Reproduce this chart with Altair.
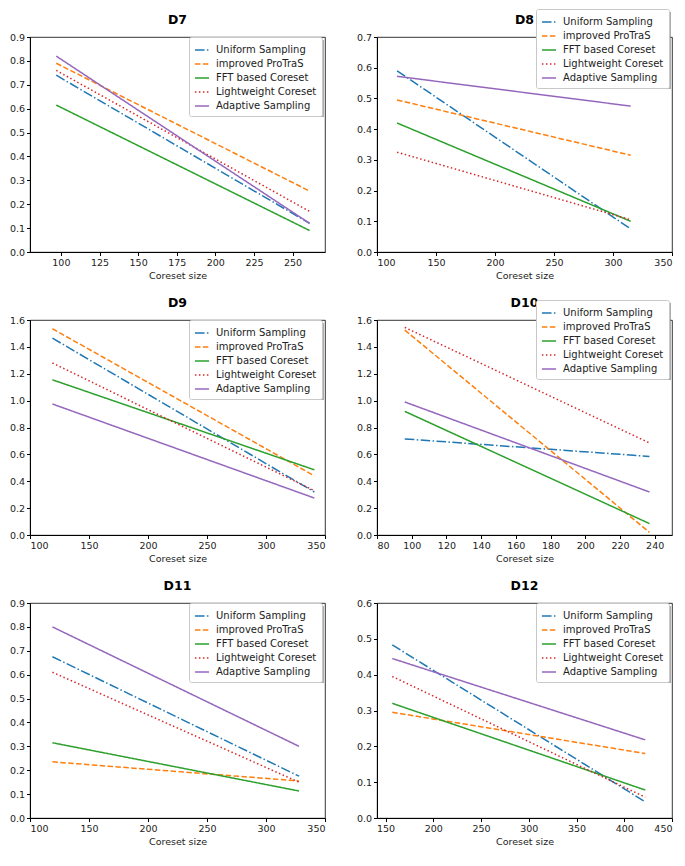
import altair as alt
import pandas as pd

panels = ["D7", "D8", "D9", "D10", "D11", "D12"]
series = ["Uniform Sampling", "improved ProTraS", "FFT based Coreset",
          "Lightweight Coreset", "Adaptive Sampling"]
colors = ["#1f77b4", "#ff7f0e", "#2ca02c", "#d62728", "#9467bd"]

# coreset sizes of the first and last point, per panel
x_first = [97, 117, 119, 96, 119, 157]
x_last = [261, 315, 341, 237, 328, 422]

# values at first / last coreset size, per panel
uniform_first = [0.74, 0.59, 1.465, 0.715, 0.675, 0.483]
uniform_last = [0.12, 0.075, 0.32, 0.585, 0.175, 0.045]
protras_first = [0.79, 0.495, 1.535, 1.525, 0.235, 0.295]
protras_last = [0.255, 0.315, 0.44, 0.02, 0.155, 0.18]
fft_first = [0.615, 0.42, 1.155, 0.92, 0.315, 0.32]
fft_last = [0.09, 0.10, 0.485, 0.085, 0.113, 0.078]
light_first = [0.76, 0.325, 1.28, 1.545, 0.61, 0.395]
light_last = [0.17, 0.105, 0.33, 0.685, 0.15, 0.058]
adaptive_first = [0.82, 0.572, 0.975, 0.99, 0.80, 0.445]
adaptive_last = [0.12, 0.475, 0.275, 0.32, 0.30, 0.218]

x_domains = [[80, 271], [100, 350], [100, 350], [80, 250], [100, 350], [141, 450]]
x_ticks = [
    [100, 125, 150, 175, 200, 225, 250],
    [100, 150, 200, 250, 300, 350],
    [100, 150, 200, 250, 300, 350],
    [80, 100, 120, 140, 160, 180, 200, 220, 240],
    [100, 150, 200, 250, 300, 350],
    [150, 200, 250, 300, 350, 400, 450],
]
y_max = [0.9, 0.7, 1.6, 1.6, 0.9, 0.6]
y_ticks = [
    [0.0, 0.1, 0.2, 0.3, 0.4, 0.5, 0.6, 0.7, 0.8, 0.9],
    [0.0, 0.1, 0.2, 0.3, 0.4, 0.5, 0.6, 0.7],
    [0.0, 0.2, 0.4, 0.6, 0.8, 1.0, 1.2, 1.4, 1.6],
    [0.0, 0.2, 0.4, 0.6, 0.8, 1.0, 1.2, 1.4, 1.6],
    [0.0, 0.1, 0.2, 0.3, 0.4, 0.5, 0.6, 0.7, 0.8, 0.9],
    [0.0, 0.1, 0.2, 0.3, 0.4, 0.5, 0.6],
]

firsts = [uniform_first, protras_first, fft_first, light_first, adaptive_first]
lasts = [uniform_last, protras_last, fft_last, light_last, adaptive_last]

rows = []
for p, name in enumerate(panels):
    for s, sname in enumerate(series):
        rows.append({"panel": name, "series": sname, "x": x_first[p], "y": firsts[s][p]})
        rows.append({"panel": name, "series": sname, "x": x_last[p], "y": lasts[s][p]})
df = pd.DataFrame(rows)

dashes = [[9.6, 2.4, 1.5, 2.4], [5.5, 2.4], [1, 0], [1.5, 2.5], [1, 0]]

W, H = 295, 215
LEGEND_W, LEGEND_H = 133, 78
legend_y = [0, -28, 0, -20, 0, 0]


def panel(i):
    sub = df[df.panel == panels[i]]
    lx = W - LEGEND_W - 3
    ly = legend_y[i]
    leg = alt.Legend(title=None, orient="none", legendX=lx, legendY=ly)
    lines = alt.Chart(sub).mark_line(strokeWidth=1.5, clip=True).encode(
        x=alt.X("x:Q", title="Coreset size",
                scale=alt.Scale(domain=x_domains[i], nice=False, zero=False),
                axis=alt.Axis(values=x_ticks[i], format="d")),
        y=alt.Y("y:Q", title=None,
                scale=alt.Scale(domain=[0, y_max[i]], nice=False),
                axis=alt.Axis(values=y_ticks[i], format=".1f")),
        color=alt.Color("series:N", scale=alt.Scale(domain=series, range=colors),
                        legend=leg),
        strokeDash=alt.StrokeDash("series:N", scale=alt.Scale(domain=series, range=dashes),
                                  legend=leg),
        detail="series:N",
    )
    shadow = alt.Chart(pd.DataFrame({"t": [panels[i]]})).mark_rect(
        color="#8a8a8a", opacity=0.7
    ).encode(
        x=alt.value(lx + 3), x2=alt.value(lx + LEGEND_W + 2),
        y=alt.value(ly + 3), y2=alt.value(ly + LEGEND_H + 2),
    )
    title = alt.Chart(pd.DataFrame({"t": [panels[i]]})).mark_text(
        fontSize=12.5, fontWeight="bold", color="black", baseline="bottom",
        align="center"
    ).encode(text="t:N", x=alt.value(W / 2), y=alt.value(-10))
    return alt.layer(lines, shadow, title).properties(width=W, height=H)


chart = alt.concat(*[panel(i) for i in range(6)], columns=2,
                   spacing={"row": 68, "column": 52}, bounds="flush").resolve_scale(
    x="independent", y="independent", color="independent", strokeDash="independent"
).resolve_legend(color="independent", strokeDash="independent").properties(
    padding={"left": 0, "top": 0, "right": 0, "bottom": 0}
).configure(font="DejaVu Sans").configure_view(
    stroke="black", strokeWidth=0.8
).configure_axis(
    grid=False, domainColor="black", tickColor="black", labelColor="#222",
    labelFontSize=9.5, titleFontSize=9.5, titleFontWeight="normal",
    titleColor="#222", tickSize=3.5, labelPadding=2, titlePadding=3,
).configure_text(font="DejaVu Sans").configure_legend(
    strokeColor="#c8c8c8", fillColor="white", padding=5, cornerRadius=2,
    labelFontSize=10, labelColor="#222", symbolType="stroke",
    symbolStrokeWidth=1.5, symbolSize=200, rowPadding=1, labelOffset=6,
)

chart.save("out.html", embed_options={"renderer": "svg", "actions": False})
